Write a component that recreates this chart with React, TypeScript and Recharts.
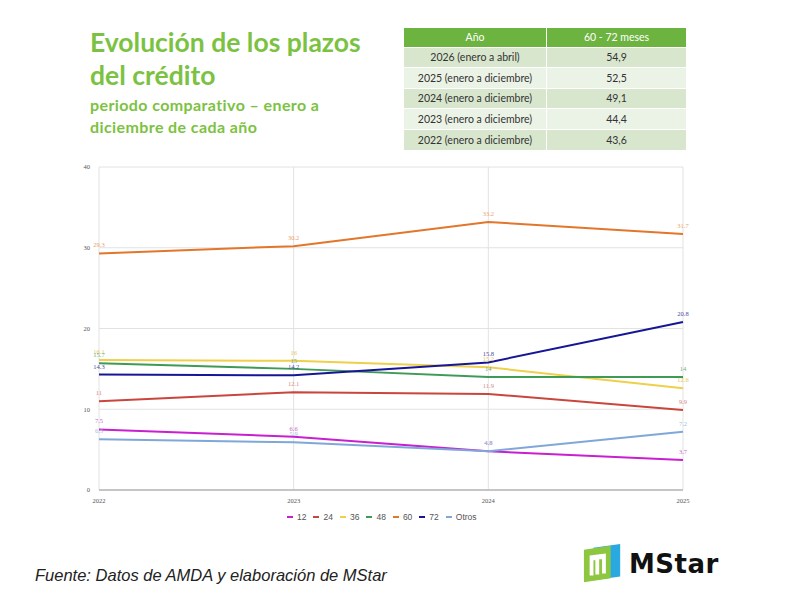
import { LineChart, Line, XAxis, YAxis, CartesianGrid, LabelList } from "recharts"

const years = ["2022", "2023", "2024", "2025"]
const plazo12 = [7.5, 6.6, 4.8, 3.7]
const plazo24 = [11, 12.1, 11.9, 9.9]
const plazo36 = [16.1, 16, 15.2, 12.6]
const plazo48 = [15.7, 15, 14, 14]
const plazo60 = [29.3, 30.2, 33.2, 31.7]
const plazo72 = [14.3, 14.2, 15.8, 20.8]
const otros = [6.3, 5.9, 4.8, 7.2]
const yTicks = [0, 10, 20, 30, 40]

const tablaAnios = [
  "2026 (enero a abril)",
  "2025 (enero a diciembre)",
  "2024 (enero a diciembre)",
  "2023 (enero a diciembre)",
  "2022 (enero a diciembre)",
]
const tablaValores = ["54,9", "52,5", "49,1", "44,4", "43,6"]

const series = [
  { key: "12", values: plazo12, color: "#c81fd0", label: "#c86ad0" },
  { key: "24", values: plazo24, color: "#c9463d", label: "#d98a85" },
  { key: "36", values: plazo36, color: "#eed04a", label: "#e2c850" },
  { key: "48", values: plazo48, color: "#3f9a55", label: "#6fae80" },
  { key: "60", values: plazo60, color: "#e2762a", label: "#eda26a" },
  { key: "72", values: plazo72, color: "#161696", label: "#4a4aa8" },
  { key: "Otros", values: otros, color: "#7fa8d8", label: "#9dbde0" },
]

const data = years.map((year, i) => {
  const row: Record<string, string | number> = { year }
  series.forEach((s) => (row[s.key] = s.values[i]))
  return row
})

const green = "#7cc242"

function Logo() {
  return (
    <div style={{ position: "absolute", left: 582, top: 542, display: "flex", alignItems: "center" }}>
      <svg width={42} height={44} viewBox="0 0 44 46">
        <polygon points="12,6 40,2 40,36 12,40" fill="#2aa8e0" />
        <polygon points="2,8 30,4 30,38 2,42" fill="#8dc63f" />
        <polygon points="8,14 25,12 25,33 21,33 21,18 18,18 18,34 14,34 14,19 12,19 12,35 8,35" fill="#fff" />
      </svg>
      <span
        style={{
          fontFamily: "DejaVu Sans",
          fontWeight: "bold",
          fontSize: 26,
          color: "#111",
          marginLeft: 5,
          letterSpacing: 0.5,
        }}
      >
        MStar
      </span>
    </div>
  )
}

export default function App() {
  return (
    <div
      style={{
        position: "absolute",
        left: 0,
        top: 0,
        width: 800,
        height: 600,
        background: "#fff",
        overflow: "hidden",
      }}
    >
      <div
        style={{
          position: "absolute",
          left: 90,
          top: 26,
          fontFamily: "Lato",
          fontWeight: "bold",
          color: green,
        }}
      >
        <div style={{ fontSize: 26.5, lineHeight: "33px" }}>Evolución de los plazos</div>
        <div style={{ fontSize: 26.5, lineHeight: "33px" }}>del crédito</div>
        <div style={{ fontSize: 16, lineHeight: "22px", marginTop: 2, letterSpacing: 0.4 }}>
          periodo comparativo – enero a
        </div>
        <div style={{ fontSize: 16, lineHeight: "22px", letterSpacing: 0.4 }}>diciembre de cada año</div>
      </div>

      <table
        style={{
          position: "absolute",
          left: 404,
          top: 28,
          width: 282,
          borderCollapse: "collapse",
          fontFamily: "Lato",
          fontSize: 10.5,
          color: "#333",
        }}
      >
        <thead>
          <tr style={{ background: "#6db33f", color: "#fff", height: 19 }}>
            <th style={{ fontWeight: "normal", width: 140, borderRight: "1px solid #fff" }}>Año</th>
            <th style={{ fontWeight: "normal" }}>60 - 72 meses</th>
          </tr>
        </thead>
        <tbody>
          {tablaAnios.map((a, i) => (
            <tr
              key={a}
              style={{
                background: i % 2 === 0 ? "#d8e6ce" : "#ebf2e6",
                height: 20.5,
                borderTop: "1px solid #fff",
              }}
            >
              <td style={{ textAlign: "center", borderRight: "1px solid #fff" }}>{a}</td>
              <td style={{ textAlign: "center" }}>{tablaValores[i]}</td>
            </tr>
          ))}
        </tbody>
      </table>

      <div style={{ position: "absolute", left: 0, top: 150 }}>
        <LineChart
          width={800}
          height={380}
          data={data}
          margin={{ top: 17, right: 117, left: 69, bottom: 26 }}
        >
          <CartesianGrid stroke="#e2e2e2" />
          <XAxis
            dataKey="year"
            height={14}
            tickLine={false}
            axisLine={{ stroke: "#9a9a9a" }}
            tick={{ fontSize: 6.5, fill: "#555" }}
            tickMargin={2}
            interval={0}
          />
          <YAxis
            width={30}
            domain={[0, 40]}
            ticks={yTicks}
            tickLine={false}
            axisLine={false}
            tick={{ fontSize: 6.5, fill: "#555" }}
            tickMargin={3}
          />
          {series.map((s) => (
            <Line
              key={s.key}
              dataKey={s.key}
              stroke={s.color}
              strokeWidth={2}
              dot={false}
              isAnimationActive={false}
            >
              <LabelList dataKey={s.key} position="top" offset={6} fontSize={6.5} fill={s.label} />
            </Line>
          ))}
        </LineChart>
      </div>

      <div
        style={{
          position: "absolute",
          left: 287,
          top: 512,
          display: "flex",
          gap: 7,
          fontFamily: "Liberation Sans",
          fontSize: 8.5,
          color: "#555",
        }}
      >
        {series.map((s) => (
          <div key={s.key} style={{ display: "flex", alignItems: "center" }}>
            <span style={{ width: 6, height: 2.5, background: s.color, marginRight: 4, display: "inline-block" }} />
            {s.key}
          </div>
        ))}
      </div>

      <div
        style={{
          position: "absolute",
          left: 35,
          top: 566,
          fontFamily: "Liberation Sans",
          fontStyle: "italic",
          fontSize: 16.5,
          color: "#222",
        }}
      >
        Fuente: Datos de AMDA y elaboración de MStar
      </div>

      <Logo />
    </div>
  )
}
